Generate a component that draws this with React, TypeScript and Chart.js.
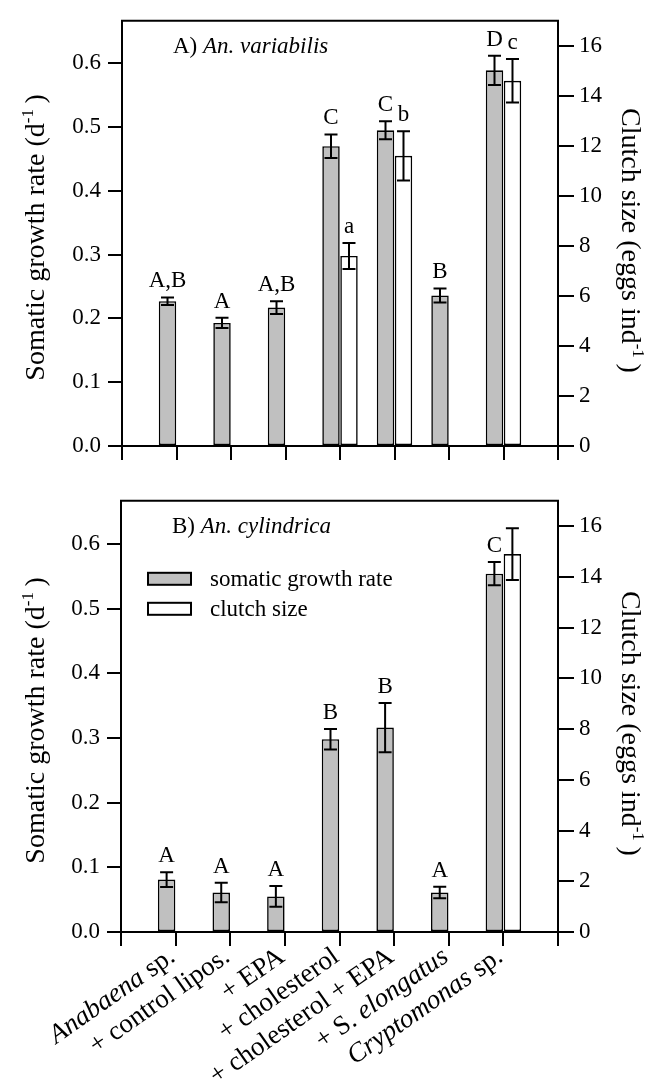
import React, { useEffect, useRef } from 'react';
import { Chart, registerables } from 'chart.js';
Chart.register(...registerables);

const FONT = '"Liberation Serif", "Times New Roman", Times, serif';

type Part = { t: string; i?: boolean; sup?: boolean };

// ---- data ----
const categories = [
  'Anabaena sp.',
  '+ control lipos.',
  '+ EPA',
  '+ cholesterol',
  '+ cholesterol + EPA',
  '+ S. elongatus',
  'Cryptomonas sp.',
];
const categoryParts: Part[][] = [
  [{ t: 'Anabaena', i: true }, { t: ' sp.' }],
  [{ t: '+ control lipos.' }],
  [{ t: '+ EPA' }],
  [{ t: '+ cholesterol' }],
  [{ t: '+ cholesterol + EPA' }],
  [{ t: '+ S. ' }, { t: 'elongatus', i: true }],
  [{ t: 'Cryptomonas', i: true }, { t: ' sp.' }],
];

const growthA = [0.227, 0.193, 0.217, 0.470, 0.495, 0.236, 0.589];
const growthErrA = [0.006, 0.008, 0.010, 0.0185, 0.014, 0.011, 0.023];
const clutchA: (number | null)[] = [null, null, null, 7.6, 11.6, null, 14.6];
const clutchErrA: (number | null)[] = [null, null, null, 0.52, 0.98, null, 0.87];
const growthLettersA = ['A,B', 'A', 'A,B', 'C', 'C', 'B', 'D'];
const clutchLettersA = ['', '', '', 'a', 'b', '', 'c'];

const growthB = [0.081, 0.061, 0.055, 0.298, 0.316, 0.061, 0.554];
const growthErrB = [0.0114, 0.015, 0.016, 0.016, 0.038, 0.009, 0.018];
const clutchB: (number | null)[] = [null, null, null, null, null, null, 14.9];
const clutchErrB: (number | null)[] = [null, null, null, null, null, null, 1.02];
const growthLettersB = ['A', 'A', 'A', 'B', 'B', 'A', 'C'];
const clutchLettersB = ['', '', '', '', '', '', ''];

const growthTicks = [0, 0.1, 0.2, 0.3, 0.4, 0.5, 0.6];
const clutchTicks = [0, 2, 4, 6, 8, 10, 12, 14, 16];

const seriesNames = ['somatic growth rate', 'clutch size'];
const GRAY = '#c0c0c0';

// ---- text helpers ----
function fontOf(p: Part, size: number) {
  const s = p.sup ? Math.round(size * 0.62) : size;
  return `${p.i ? 'italic ' : ''}${s}px ${FONT}`;
}
function richWidth(ctx: CanvasRenderingContext2D, parts: Part[], size: number) {
  let w = 0;
  for (const p of parts) {
    ctx.font = fontOf(p, size);
    w += ctx.measureText(p.t).width;
  }
  return w;
}
function drawRich(
  ctx: CanvasRenderingContext2D,
  parts: Part[],
  size: number,
  x: number,
  y: number,
  align: 'left' | 'center' | 'right'
) {
  const w = richWidth(ctx, parts, size);
  let cx = align === 'left' ? x : align === 'center' ? x - w / 2 : x - w;
  ctx.textAlign = 'left';
  for (const p of parts) {
    ctx.font = fontOf(p, size);
    ctx.fillText(p.t, cx, p.sup ? y - size * 0.38 : y);
    cx += ctx.measureText(p.t).width;
  }
}

const leftTitle: Part[] = [{ t: 'Somatic growth rate (d' }, { t: '-1', sup: true }, { t: '\u2009)' }];
const rightTitle: Part[] = [{ t: 'Clutch size (eggs ind' }, { t: '-1', sup: true }, { t: '\u2009)' }];

interface PanelCfg {
  canvasTop: number;
  height: number;
  chartTop: number;
  xHeight: number;
  leftW: number;
  growth: number[];
  growthErr: number[];
  clutch: (number | null)[];
  clutchErr: (number | null)[];
  growthLetters: string[];
  clutchLetters: string[];
  title: Part[];
  showLegend: boolean;
  showXLabels: boolean;
}

const pad = (a: (number | null)[]) => [null, ...a, null];

function makeOverlay(cfg: PanelCfg) {
  return {
    id: 'overlay',
    afterDatasetsDraw(chart: any) {
      const ctx: CanvasRenderingContext2D = chart.ctx;
      const { left, right, top, bottom } = chart.chartArea;
      ctx.save();
      ctx.strokeStyle = '#000';
      ctx.fillStyle = '#000';
      ctx.lineWidth = 2;
      // top frame line
      ctx.beginPath();
      ctx.moveTo(left - 1, top);
      ctx.lineTo(right + 1, top);
      ctx.stroke();

      const series = [
        { vals: cfg.growth as (number | null)[], errs: cfg.growthErr as (number | null)[], letters: cfg.growthLetters, axis: 'y', di: 0 },
        { vals: cfg.clutch, errs: cfg.clutchErr, letters: cfg.clutchLetters, axis: 'y2', di: 1 },
      ];
      for (const s of series) {
        const meta = chart.getDatasetMeta(s.di);
        const sc = chart.scales[s.axis];
        s.vals.forEach((v, k) => {
          if (v == null) return;
          const el = meta.data[k + 1];
          if (!el) return;
          const x = el.x;
          const e = s.errs[k] || 0;
          const yT = sc.getPixelForValue(v + e);
          const yB = sc.getPixelForValue(v - e);
          const cap = 6.5;
          ctx.lineWidth = 2;
          ctx.beginPath();
          ctx.moveTo(x, yT);
          ctx.lineTo(x, yB);
          ctx.moveTo(x - cap, yT);
          ctx.lineTo(x + cap, yT);
          ctx.moveTo(x - cap, yB);
          ctx.lineTo(x + cap, yB);
          ctx.stroke();
          const letter = s.letters[k];
          if (letter) {
            ctx.font = `23px ${FONT}`;
            ctx.textAlign = 'center';
            ctx.textBaseline = 'alphabetic';
            ctx.fillText(letter, x, yT - 10);
          }
        });
      }

      // panel title
      ctx.textBaseline = 'alphabetic';
      drawRich(ctx, cfg.title, 23, left + 51, top + 32, 'left');

      // legend
      if (cfg.showLegend) {
        const colors = [GRAY, '#ffffff'];
        seriesNames.forEach((name, i) => {
          const bx = left + 27;
          const by = top + 72 + i * 30;
          ctx.fillStyle = colors[i];
          ctx.fillRect(bx, by, 43, 12);
          ctx.strokeStyle = '#000';
          ctx.lineWidth = 2;
          ctx.strokeRect(bx, by, 43, 12);
          ctx.fillStyle = '#000';
          ctx.font = `23px ${FONT}`;
          ctx.textAlign = 'left';
          ctx.textBaseline = 'middle';
          ctx.fillText(name, left + 89, by + 7);
        });
      }

      // axis titles
      ctx.fillStyle = '#000';
      ctx.textBaseline = 'alphabetic';
      const cy = (top + bottom) / 2;
      ctx.save();
      ctx.translate(44, cy + 4);
      ctx.rotate(-Math.PI / 2);
      drawRich(ctx, leftTitle, 28, 0, 0, 'center');
      ctx.restore();
      ctx.save();
      ctx.translate(622, cy + 7);
      ctx.rotate(Math.PI / 2);
      drawRich(ctx, rightTitle, 28, 0, 0, 'center');
      ctx.restore();

      // x labels
      if (cfg.showXLabels) {
        const xs = chart.scales.x;
        categoryParts.forEach((parts, k) => {
          const px = xs.getPixelForValue(k + 1);
          ctx.save();
          ctx.translate(px + 1, bottom + 28);
          ctx.rotate((-35 * Math.PI) / 180);
          ctx.textBaseline = 'alphabetic';
          drawRich(ctx, parts, 27, 0, 0, 'right');
          ctx.restore();
        });
      }
      ctx.restore();
    },
  };
}

function Panel({ cfg }: { cfg: PanelCfg }) {
  const ref = useRef<HTMLCanvasElement>(null);
  useEffect(() => {
    const tickFont = { family: FONT, size: 23 };
    const chart = new Chart(ref.current as HTMLCanvasElement, {
      type: 'bar',
      data: {
        labels: ['', ...categories, ''],
        datasets: [
          {
            label: seriesNames[0],
            data: pad(cfg.growth),
            yAxisID: 'y',
            backgroundColor: GRAY,
            borderColor: '#000',
            borderWidth: 1.6,
            borderSkipped: false,
            categoryPercentage: 0.66,
            barPercentage: 0.97,
          },
          {
            label: seriesNames[1],
            data: pad(cfg.clutch),
            yAxisID: 'y2',
            backgroundColor: '#ffffff',
            borderColor: '#000',
            borderWidth: 1.6,
            borderSkipped: false,
            categoryPercentage: 0.66,
            barPercentage: 0.97,
          },
        ],
      } as any,
      options: {
        responsive: false,
        maintainAspectRatio: false,
        animation: false,
        events: [],
        layout: { padding: { top: cfg.chartTop, left: 0, right: 0, bottom: 0 } },
        plugins: { legend: { display: false }, tooltip: { enabled: false }, title: { display: false } },
        scales: {
          x: {
            type: 'category',
            offset: false,
            grid: {
              display: true,
              offset: false,
              drawOnChartArea: false,
              drawTicks: true,
              tickLength: 14,
              color: '#000',
              lineWidth: 2,
            },
            border: { display: true, color: '#000', width: 2 },
            ticks: { display: false, autoSkip: false },
            afterFit: (s: any) => {
              s.height = cfg.xHeight;
            },
          },
          y: {
            position: 'left',
            min: 0,
            max: 2 / 3,
            afterBuildTicks: (s: any) => {
              s.ticks = growthTicks.map((v) => ({ value: v }));
            },
            ticks: {
              callback: (v: any) => Number(v).toFixed(1),
              font: tickFont,
              color: '#000',
              padding: 7,
            },
            grid: { drawOnChartArea: false, drawTicks: true, tickLength: 14, color: '#000', lineWidth: 2 },
            border: { display: true, color: '#000', width: 2 },
            afterFit: (s: any) => {
              s.width = cfg.leftW;
            },
          },
          y2: {
            position: 'right',
            min: 0,
            max: 17,
            afterBuildTicks: (s: any) => {
              s.ticks = clutchTicks.map((v) => ({ value: v }));
            },
            ticks: {
              callback: (v: any) => String(v),
              font: tickFont,
              color: '#000',
              padding: 5,
            },
            grid: { drawOnChartArea: false, drawTicks: true, tickLength: 16, color: '#000', lineWidth: 2 },
            border: { display: true, color: '#000', width: 2 },
            afterFit: (s: any) => {
              s.width = 105;
            },
          },
        },
      } as any,
      plugins: [makeOverlay(cfg)],
    });
    return () => chart.destroy();
  }, []);
  return (
    <canvas
      ref={ref}
      width={663}
      height={cfg.height}
      style={{ position: 'absolute', left: 0, top: cfg.canvasTop, width: 663, height: cfg.height }}
    />
  );
}

const panelA: PanelCfg = {
  canvasTop: 0,
  height: 480,
  chartTop: 8,
  xHeight: 34,
  leftW: 122,
  growth: growthA,
  growthErr: growthErrA,
  clutch: clutchA,
  clutchErr: clutchErrA,
  growthLetters: growthLettersA,
  clutchLetters: clutchLettersA,
  title: [{ t: 'A) ' }, { t: 'An. variabilis', i: true }],
  showLegend: false,
  showXLabels: false,
};

const panelB: PanelCfg = {
  canvasTop: 480,
  height: 610,
  chartTop: 15,
  xHeight: 158,
  leftW: 121,
  growth: growthB,
  growthErr: growthErrB,
  clutch: clutchB,
  clutchErr: clutchErrB,
  growthLetters: growthLettersB,
  clutchLetters: clutchLettersB,
  title: [{ t: 'B) ' }, { t: 'An. cylindrica', i: true }],
  showLegend: true,
  showXLabels: true,
};

export default function App() {
  return (
    <div style={{ position: 'absolute', left: 0, top: 0, width: 663, height: 1090, background: '#fff' }}>
      <Panel cfg={panelA} />
      <Panel cfg={panelB} />
    </div>
  );
}
